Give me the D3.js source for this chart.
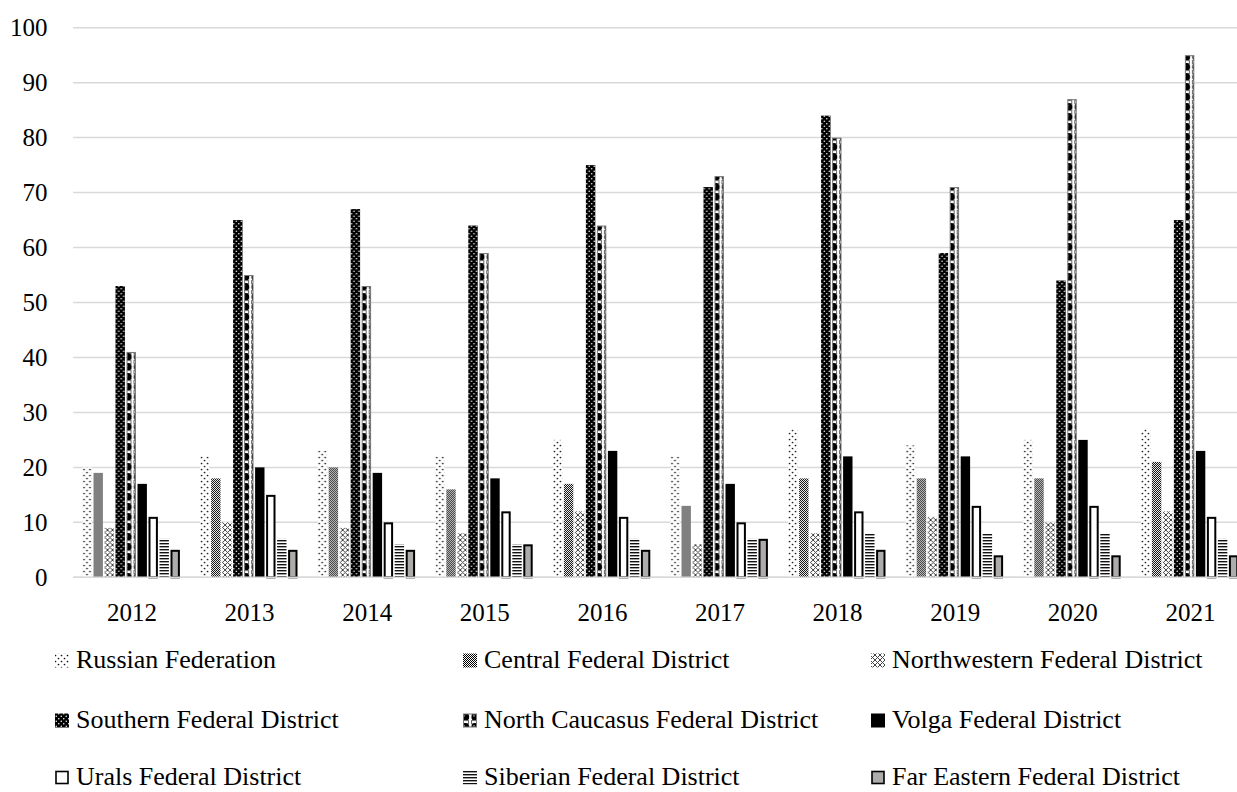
<!DOCTYPE html>
<html><head><meta charset="utf-8">
<script src="https://cdn.jsdelivr.net/npm/d3@7"></script>
<style>html,body{margin:0;padding:0;background:#fff;overflow:hidden}</style>
</head><body><svg id="c" width="1237" height="792"></svg>
<script>
const years = ["2012","2013","2014","2015","2016","2017","2018","2019","2020","2021"];
const seriesNames = ["Russian Federation","Central Federal District","Northwestern Federal District",
  "Southern Federal District","North Caucasus Federal District","Volga Federal District",
  "Urals Federal District","Siberian Federal District","Far Eastern Federal District"];
const russian   = [20,22,23,22,25,22,27,24,25,27];
const central   = [19,18,20,16,17,13,18,18,18,21];
const northwest = [9,10,9,8,12,6,8,11,10,12];
const southern  = [53,65,67,64,75,71,84,59,54,65];
const ncaucasus = [41,55,53,59,64,73,80,71,87,95];
const volga     = [17,20,19,18,23,17,22,22,25,23];
const urals     = [11,15,10,12,11,10,12,13,13,11];
const siberian  = [7,7,6,6,7,7,8,8,8,7];
const fareast   = [5,5,5,6,5,7,5,4,4,4];
const yTicks = [0,10,20,30,40,50,60,70,80,90,100];

const allSeries = [russian,central,northwest,southern,ncaucasus,volga,urals,siberian,fareast];

const svg = d3.select("#c");
const defs = svg.append("defs");
const FONT = "'Liberation Serif','Times New Roman',serif";

function pat(id,w,h){ return defs.append("pattern").attr("id",id).attr("patternUnits","userSpaceOnUse").attr("width",w).attr("height",h); }
let p;
p = pat("p0",6,6); p.append("rect").attr("width",6).attr("height",6).attr("fill","#fff");
p.append("circle").attr("cx",1.5).attr("cy",1.5).attr("r",0.85).attr("fill","#111");
p.append("circle").attr("cx",4.5).attr("cy",4.5).attr("r",0.85).attr("fill","#111");
p = pat("p1",2,2); p.append("rect").attr("width",2).attr("height",2).attr("fill","#fff");
p.append("rect").attr("width",1).attr("height",1).attr("fill","#000");
p.append("rect").attr("x",1).attr("y",1).attr("width",1).attr("height",1).attr("fill","#000");
p = pat("p2",5,5); p.append("rect").attr("width",5).attr("height",5).attr("fill","#fff");
p.append("path").attr("d","M0,0L5,5M5,0L0,5").attr("stroke","#444").attr("stroke-width",1);
p = pat("p3",5,5); p.append("rect").attr("width",5).attr("height",5).attr("fill","#000");
p.append("circle").attr("cx",1.25).attr("cy",1.25).attr("r",0.75).attr("fill","#fff");
p.append("circle").attr("cx",3.75).attr("cy",3.75).attr("r",0.75).attr("fill","#fff");
p = pat("p4",10,10); p.append("rect").attr("width",10).attr("height",10).attr("fill","#fff");
p.append("rect").attr("x",1.5).attr("y",0.6).attr("width",7).attr("height",3.2).attr("fill","#fff").attr("stroke","#666").attr("stroke-width",1);
p.append("circle").attr("cx",5.3).attr("cy",7).attr("r",3.9).attr("fill","#000");
p.append("circle").attr("cx",4).attr("cy",5.8).attr("r",0.9).attr("fill","#999");
p = pat("p7",3,3); p.append("rect").attr("width",3).attr("height",3).attr("fill","#fff");
p.append("rect").attr("y",0).attr("width",3).attr("height",1.4).attr("fill","#111");

const styles = [
  {fill:"url(#p0)", stroke:"none", sw:0},
  {fill:"url(#p1)", stroke:"none", sw:0},
  {fill:"url(#p2)", stroke:"none", sw:0},
  {fill:"url(#p3)", stroke:"none", sw:0},
  {fill:"url(#p4)", stroke:"#777", sw:1},
  {fill:"#000", stroke:"none", sw:0},
  {fill:"#fff", stroke:"#000", sw:2},
  {fill:"url(#p7)", stroke:"none", sw:0},
  {fill:"#aeabab", stroke:"#000", sw:2}
];

const y = d3.scaleLinear().domain([0,100]).range([577.3,27.7]);
const x0 = d3.scaleBand().domain(years).range([73.2,1249.2]).padding(0);
const groupW = 99;
const x1 = d3.scaleBand().domain(seriesNames).range([0,groupW]).padding(0);
const off = (x0.bandwidth()-groupW)/2;

svg.append("g").selectAll("line").data(yTicks).join("line")
  .attr("x1",73.2).attr("x2",1237).attr("y1",d=>y(d)).attr("y2",d=>y(d))
  .attr("stroke","#d9d9d9").attr("stroke-width",1.5);

const yAxis = d3.axisLeft(y).tickValues(yTicks).tickSize(0).tickPadding(0);
const ya = svg.append("g").attr("transform","translate(47.5,0)").call(yAxis);
ya.select(".domain").remove();
ya.selectAll("text").attr("font-family",FONT).attr("font-size",25).attr("fill","#000").attr("dy","0.33em");

const xAxis = d3.axisBottom(x0).tickSize(0).tickPadding(0);
const xa = svg.append("g").attr("transform","translate(0,577.3)").call(xAxis);
xa.select(".domain").remove();
xa.selectAll("text").attr("font-family",FONT).attr("font-size",25).attr("fill","#000").attr("dy",0).attr("y",43.5);

const bw = x1.bandwidth();
const groups = svg.append("g").selectAll("g").data(years).join("g")
  .attr("transform",d=>`translate(${x0(d)+off},0)`);
groups.selectAll("rect").data((d,i)=>seriesNames.map((s,k)=>({s,k,v:allSeries[k][i]}))).join("rect")
  .each(function(d){
    const st = styles[d.k];
    const inset = st.sw/2;
    const w = bw-1.6;
    d3.select(this)
      .attr("x", x1(d.s)+inset)
      .attr("y", y(d.v)+inset)
      .attr("width", Math.max(0,w-2*inset))
      .attr("height", Math.max(0,y(0)-y(d.v)-inset))
      .attr("fill", st.fill).attr("stroke", st.stroke).attr("stroke-width", st.sw);
  });

svg.append("line").attr("x1",73.2).attr("x2",1237).attr("y1",y(0)).attr("y2",y(0))
  .attr("stroke","#d9d9d9").attr("stroke-width",1.5);

const colX = [55,463,871];
const rowY = [668,728,785];
const lg = svg.append("g");
seriesNames.forEach((name,k)=>{
  const cx = colX[k%3], by = rowY[Math.floor(k/3)];
  const st = styles[k];
  const ins = st.sw/2;
  lg.append("rect").attr("x",cx+ins).attr("y",by-14.5+ins).attr("width",14-2*ins).attr("height",14-2*ins)
    .attr("fill",st.fill).attr("stroke",st.stroke).attr("stroke-width",st.sw===2?1.6:st.sw);
  lg.append("text").attr("x",cx+21).attr("y",by).text(name)
    .attr("font-family",FONT).attr("font-size",26).attr("fill","#000");
});
</script></body></html>
